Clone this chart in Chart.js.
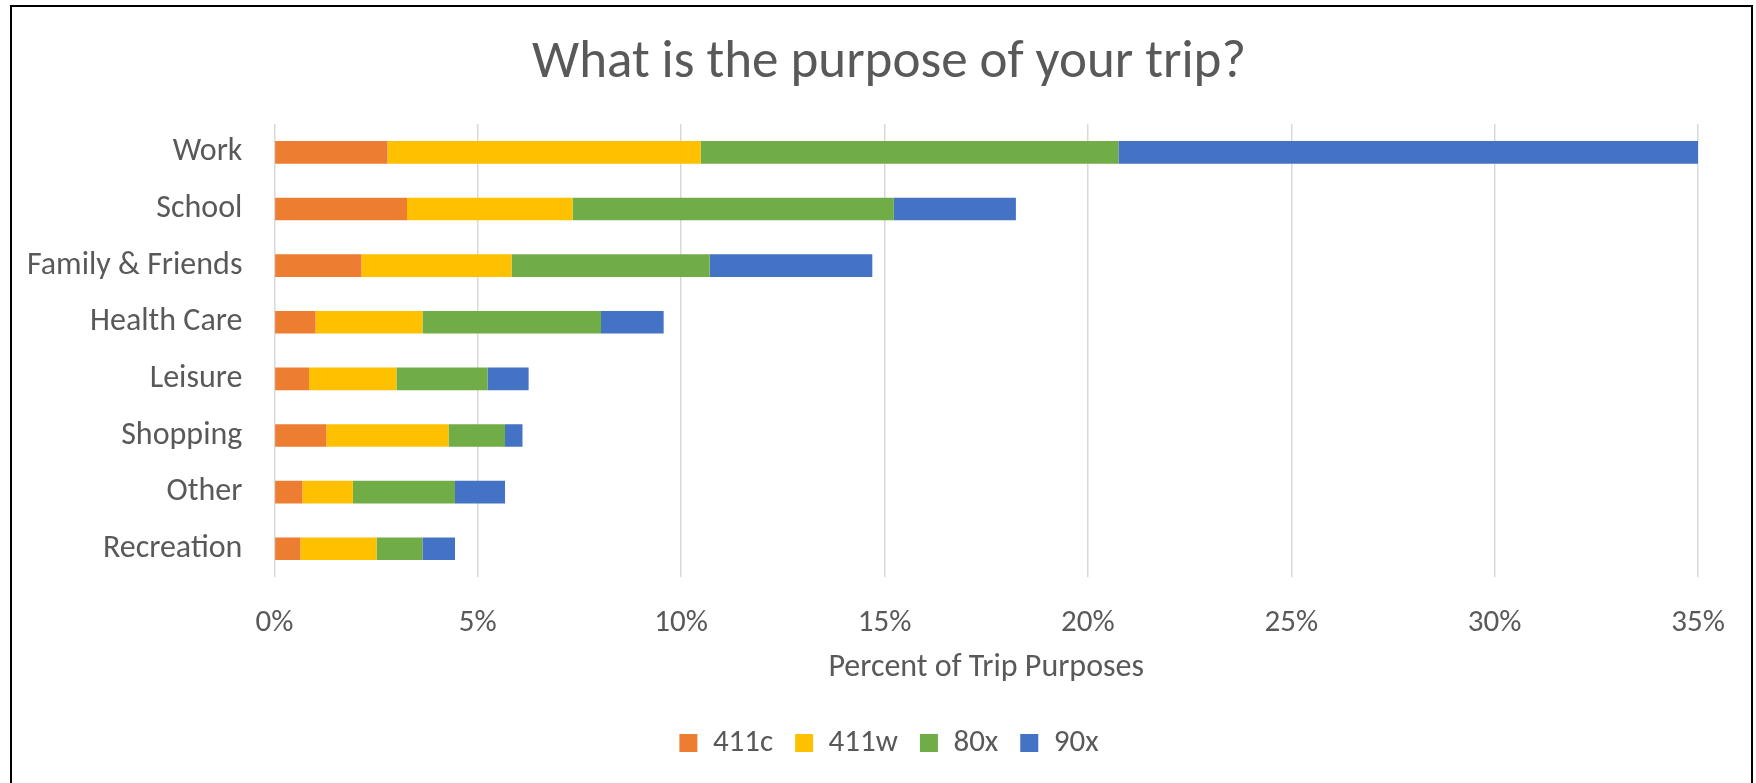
<!DOCTYPE html>
<html>
<head>
<meta charset="utf-8">
<title>Trip purposes</title>
<script src="https://cdn.jsdelivr.net/npm/chart.js@4.4.1/dist/chart.umd.min.js"></script>
<style>
  html, body { margin: 0; padding: 0; background: #fff; overflow: hidden; }
  #wrap { position: relative; width: 1756px; height: 783px; }
  #frame {
    position: absolute; left: 10px; top: 5px; width: 1739px; height: 820px;
    border: 2px solid #000; pointer-events: none;
  }
</style>
</head>
<body>
<div id="wrap">
  <canvas id="tripChart" width="1756" height="783"></canvas>
  <div id="frame"></div>
</div>
<script>
// Share of trip purposes by route, in percent
const purposes = ['Work', 'School', 'Family & Friends', 'Health Care', 'Leisure', 'Shopping', 'Other', 'Recreation'];
const routes = ['411c', '411w', '80x', '90x'];
const share411c = [2.78, 3.26, 2.14, 1.01, 0.85, 1.28, 0.69, 0.64];
const share411w = [7.70, 4.07, 3.69, 2.63, 2.15, 3.00, 1.24, 1.87];
const share80x = [10.27, 7.90, 4.87, 4.39, 2.24, 1.39, 2.51, 1.13];
const share90x = [14.27, 3.00, 4.00, 1.54, 1.01, 0.43, 1.23, 0.80];
const routeColors = ['#ED7D31', '#FFC000', '#70AD47', '#4472C4'];
const xMax = 35;
const xStep = 5;

const textColor = '#595959';
const fontFamily = 'Calibri, Carlito, Lato, sans-serif';
const seriesValues = [share411c, share411w, share80x, share90x];
const padLeft = 22;

const datasets = routes.map((name, i) => ({
    label: name,
    data: seriesValues[i],
    backgroundColor: routeColors[i],
    borderWidth: 0,
    barPercentage: 0.4,
    categoryPercentage: 1
}));

const ctx = document.getElementById('tripChart').getContext('2d');
const chart = new Chart(ctx, {
    type: 'bar',
    data: {
        labels: purposes,
        datasets: datasets
    },
    options: {
        indexAxis: 'y',
        responsive: false,
        animation: false,
        devicePixelRatio: 1,
        layout: {
            padding: { left: padLeft, right: 0, top: 0, bottom: 14.5 }
        },
        scales: {
            x: {
                stacked: true,
                min: 0,
                max: xMax,
                border: { display: false },
                grid: { color: '#d9d9d9', lineWidth: 1.5, drawTicks: false },
                ticks: {
                    stepSize: xStep,
                    padding: 27.4,
                    color: textColor,
                    font: { family: fontFamily, size: 31 },
                    callback: value => value + '%'
                },
                title: {
                    display: true,
                    text: 'Percent of Trip Purposes',
                    color: textColor,
                    font: { family: fontFamily, size: 32 },
                    // tick padding is counted twice in the axis height, pull the title back up
                    padding: { top: -20, bottom: 18 }
                },
                afterFit: scale => {
                    scale.paddingRight = 58;
                }
            },
            y: {
                stacked: true,
                border: { display: false },
                grid: { display: false, drawTicks: false },
                ticks: {
                    padding: 32,
                    color: textColor,
                    font: { family: fontFamily, size: 32 }
                },
                afterFit: scale => {
                    scale.width = 274.4 - padLeft;
                }
            }
        },
        plugins: {
            title: {
                display: true,
                text: 'What is the purpose of your trip?',
                color: textColor,
                font: { family: fontFamily, size: 53, weight: '300' },
                padding: { top: 32, bottom: 28.4 }
            },
            legend: {
                position: 'bottom',
                labels: {
                    boxWidth: 18,
                    boxHeight: 18,
                    padding: 22,
                    color: textColor,
                    font: { family: fontFamily, size: 31 }
                }
            },
            tooltip: { enabled: false }
        }
    }
});
</script>
</body>
</html>
